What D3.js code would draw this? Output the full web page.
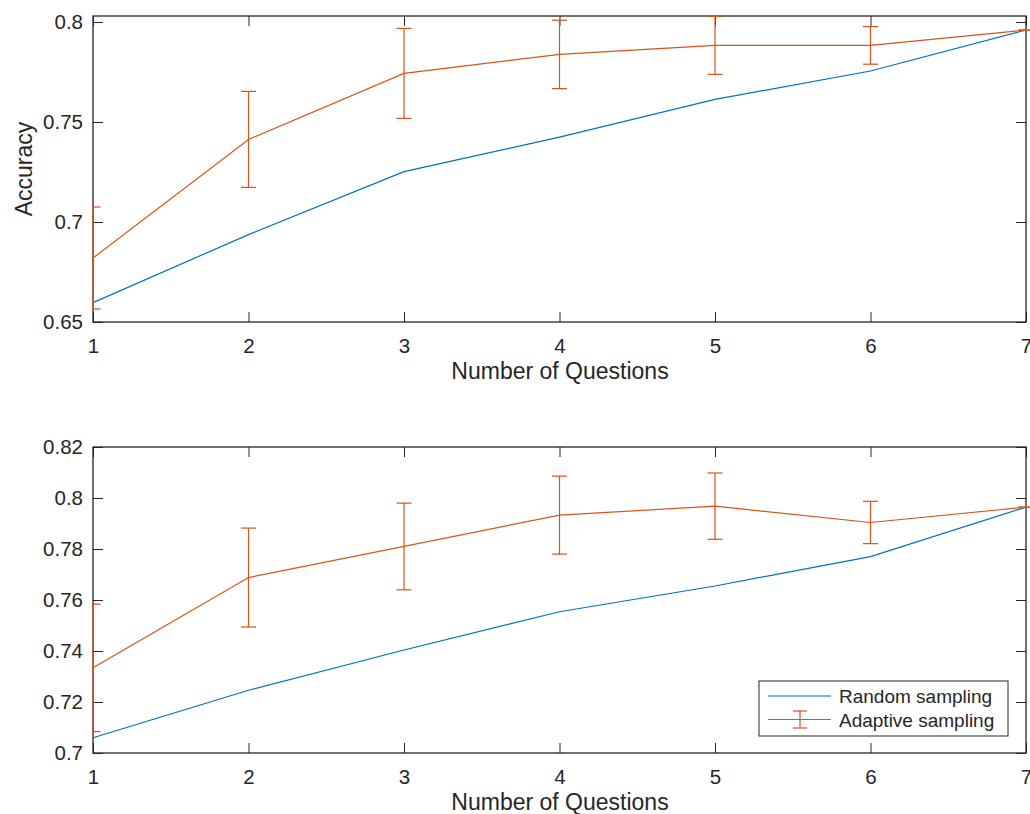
<!DOCTYPE html>
<html>
<head>
<meta charset="utf-8">
<script src="https://cdn.jsdelivr.net/npm/d3@7.9.0/dist/d3.min.js"></script>
<style>
  body { margin: 0; background: #fff; }
  text { font-family: "Liberation Sans", Arial, Helvetica, sans-serif; fill: #262626; }
</style>
</head>
<body>
<svg id="chart" width="1030" height="814"></svg>
<script>
// number of questions on the x axis
const questions = [1, 2, 3, 4, 5, 6, 7];

// top panel
const topRandom = [0.6597, 0.6937, 0.7252, 0.7424, 0.7613, 0.7755, 0.796];
const topAdaptive = [0.682, 0.7413, 0.7743, 0.7838, 0.7883, 0.7883, 0.796];
const topAdaptiveErr = [0.0255, 0.024, 0.0225, 0.0171, 0.0145, 0.0094, 0];
const topYTicks = [0.65, 0.7, 0.75, 0.8];
const topYTickLabels = ["0.65", "0.7", "0.75", "0.8"];

// bottom panel
const bottomRandom = [0.706, 0.7246, 0.7404, 0.7554, 0.7655, 0.777, 0.7964];
const bottomAdaptive = [0.7334, 0.7688, 0.781, 0.7933, 0.7968, 0.7904, 0.7964];
const bottomAdaptiveErr = [0.025, 0.0194, 0.017, 0.0153, 0.013, 0.0083, 0];
const bottomYTicks = [0.7, 0.72, 0.74, 0.76, 0.78, 0.8, 0.82];
const bottomYTickLabels = ["0.7", "0.72", "0.74", "0.76", "0.78", "0.8", "0.82"];

const legendLabels = ["Random sampling", "Adaptive sampling"];

const blue = "#0072BD";
const orange = "#D95319";
const axisColor = "#262626";

const svg = d3.select("#chart");

function drawPanel(opts) {
  const left = 93, right = 1026;
  const { top, bottom, domain, yTicks, yTickLabels, random, adaptive, err, id } = opts;

  const x = d3.scaleLinear().domain([1, 7]).range([left, right]);
  const y = d3.scaleLinear().domain(domain).range([bottom, top]);

  const g = svg.append("g");

  // clip to the axes box (a bit looser on the right, like the original)
  svg.append("clipPath").attr("id", id)
    .append("rect")
    .attr("x", left - 1).attr("y", top - 1)
    .attr("width", right - left + 8).attr("height", bottom - top + 2);

  // left axis
  g.append("g")
    .attr("transform", `translate(${left},0)`)
    .call(d3.axisLeft(y).tickValues(yTicks).tickSize(-10).tickPadding(10)
      .tickFormat((d, i) => yTickLabels[i]))
    .call(a => a.select(".domain").remove())
    .call(a => a.selectAll("text").attr("font-size", 20.5).style("font-family", null));

  // right ticks (mirrored)
  g.append("g")
    .attr("transform", `translate(${right},0)`)
    .call(d3.axisRight(y).tickValues(yTicks).tickSize(-10).tickFormat(""))
    .call(a => a.select(".domain").remove());

  // bottom axis
  g.append("g")
    .attr("transform", `translate(0,${bottom})`)
    .call(d3.axisBottom(x).tickValues(questions).tickSize(-10).tickPadding(16)
      .tickFormat(d3.format("d")))
    .call(a => a.select(".domain").remove())
    .call(a => a.selectAll("text").attr("font-size", 20.5).style("font-family", null));

  // top ticks (mirrored)
  g.append("g")
    .attr("transform", `translate(0,${top})`)
    .call(d3.axisTop(x).tickValues(questions).tickSize(-10).tickFormat(""))
    .call(a => a.select(".domain").remove());

  g.selectAll(".tick line").attr("stroke", axisColor).attr("stroke-width", 1);

  // box
  g.append("rect")
    .attr("x", left).attr("y", top)
    .attr("width", right - left).attr("height", bottom - top)
    .attr("fill", "none").attr("stroke", axisColor).attr("stroke-width", 1.3);

  const plot = g.append("g").attr("clip-path", `url(#${id})`);

  const line = d3.line().x((d, i) => x(questions[i])).y(d => y(d));

  plot.append("path").datum(random)
    .attr("d", line).attr("fill", "none")
    .attr("stroke", blue).attr("stroke-width", 1.2);

  plot.append("path").datum(adaptive)
    .attr("d", line).attr("fill", "none")
    .attr("stroke", orange).attr("stroke-width", 1.2);

  // error bars
  const bars = plot.selectAll(".err").data(adaptive).join("g").attr("class", "err")
    .attr("stroke", orange).attr("stroke-width", 1.2);
  bars.append("line")
    .attr("x1", (d, i) => x(questions[i])).attr("x2", (d, i) => x(questions[i]))
    .attr("y1", (d, i) => y(d - err[i])).attr("y2", (d, i) => y(d + err[i]));
  bars.append("line")
    .attr("x1", (d, i) => x(questions[i]) - 7.5).attr("x2", (d, i) => x(questions[i]) + 7.5)
    .attr("y1", (d, i) => y(d - err[i])).attr("y2", (d, i) => y(d - err[i]));
  bars.append("line")
    .attr("x1", (d, i) => x(questions[i]) - 7.5).attr("x2", (d, i) => x(questions[i]) + 7.5)
    .attr("y1", (d, i) => y(d + err[i])).attr("y2", (d, i) => y(d + err[i]));

  // x label
  g.append("text")
    .attr("x", (left + right) / 2 + 0.5).attr("y", bottom + 57)
    .attr("text-anchor", "middle").attr("font-size", 23)
    .text("Number of Questions");

  if (opts.yLabel) {
    g.append("text")
      .attr("transform", `translate(32,${(top + bottom) / 2}) rotate(-90)`)
      .attr("text-anchor", "middle").attr("font-size", 23)
      .text(opts.yLabel);
  }

  if (opts.legend) {
    const lg = g.append("g");
    lg.append("rect")
      .attr("x", 759).attr("y", 681).attr("width", 249).attr("height", 55)
      .attr("fill", "#fff").attr("stroke", axisColor).attr("stroke-width", 1);
    const rows = [{ c: blue, y: 696 }, { c: orange, y: 719.5 }];
    rows.forEach((r, i) => {
      lg.append("line").attr("x1", 768).attr("x2", 831)
        .attr("y1", r.y).attr("y2", r.y)
        .attr("stroke", r.c).attr("stroke-width", 1.2);
      lg.append("text").attr("x", 839).attr("y", r.y + 7)
        .attr("font-size", 19).text(legendLabels[i]);
    });
    const ex = 800;
    lg.append("g").attr("stroke", orange).attr("stroke-width", 1.2)
      .call(s => {
        s.append("line").attr("x1", ex).attr("x2", ex).attr("y1", 711).attr("y2", 728);
        s.append("line").attr("x1", ex - 7).attr("x2", ex + 7).attr("y1", 711).attr("y2", 711);
        s.append("line").attr("x1", ex - 7).attr("x2", ex + 7).attr("y1", 728).attr("y2", 728);
      });
  }
}

drawPanel({
  id: "clipTop", top: 16, bottom: 322, domain: [0.65, 0.803],
  yTicks: topYTicks, yTickLabels: topYTickLabels,
  random: topRandom, adaptive: topAdaptive, err: topAdaptiveErr,
  yLabel: "Accuracy"
});

drawPanel({
  id: "clipBottom", top: 447, bottom: 753, domain: [0.7, 0.82],
  yTicks: bottomYTicks, yTickLabels: bottomYTickLabels,
  random: bottomRandom, adaptive: bottomAdaptive, err: bottomAdaptiveErr,
  legend: true
});
</script>
</body>
</html>
